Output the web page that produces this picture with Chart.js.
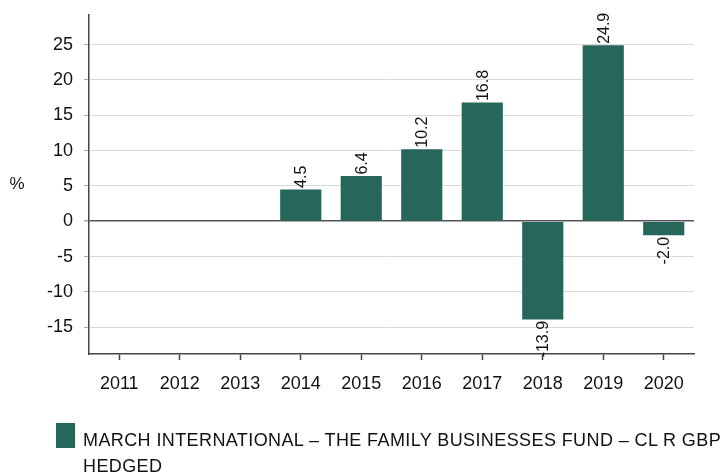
<!DOCTYPE html>
<html>
<head>
<meta charset="utf-8">
<script src="https://cdn.jsdelivr.net/npm/chart.js@4.4.1/dist/chart.umd.min.js"></script>
<style>
  html, body { margin: 0; padding: 0; background: #fff; }
  #wrap { position: relative; width: 722px; height: 473px; overflow: hidden; }
  canvas { position: absolute; left: 0; top: 0; }
  #legend { position: absolute; left: 56px; top: 422px; font-family: "Liberation Sans", Arial, sans-serif; font-size: 18px; letter-spacing: 0.4px; color: #111; }
  #legend .box { position: absolute; left: 0; top: 1px; width: 19px; height: 25px; }
  #legend .txt { position: absolute; left: 27px; top: 5px; width: 680px; line-height: 26px; white-space: nowrap; }
</style>
</head>
<body>
<div id="wrap">
  <canvas id="c" width="722" height="473"></canvas>
  <div id="legend"><div class="box" id="lbox"></div><div class="txt" id="ltxt"></div></div>
</div>
<script>
const categories = ["2011", "2012", "2013", "2014", "2015", "2016", "2017", "2018", "2019", "2020"];
const fundReturns = [null, null, null, 4.5, 6.4, 10.2, 16.8, -13.9, 24.9, -2.0];
const seriesName = "MARCH INTERNATIONAL \u2013 THE FAMILY BUSINESSES FUND \u2013 CL R GBP HEDGED";
const legendLines = ["MARCH INTERNATIONAL \u2013 THE FAMILY BUSINESSES FUND \u2013 CL R GBP", "HEDGED"];
const yAxisTitle = "%";

const barColor = "#27665a";
const textColor = "#111";
const fontFamily = '"Liberation Sans", Arial, sans-serif';

document.getElementById('lbox').style.background = barColor;
document.getElementById('ltxt').innerHTML = legendLines.join('<br>');

const valueLabels = {
  id: 'valueLabels',
  afterDatasetsDraw(chart) {
    const ctx = chart.ctx;
    const meta = chart.getDatasetMeta(0);
    const data = chart.data.datasets[0].data;
    ctx.save();
    ctx.font = '16px ' + fontFamily;
    ctx.fillStyle = textColor;
    ctx.textBaseline = 'middle';
    meta.data.forEach((bar, i) => {
      const v = data[i];
      if (v === null || v === undefined) return;
      ctx.save();
      ctx.translate(bar.x, bar.y + (v >= 0 ? -1.5 : 1.5));
      ctx.rotate(-Math.PI / 2);
      ctx.textAlign = v >= 0 ? 'left' : 'right';
      ctx.fillText(v.toFixed(1), 0, 1);
      ctx.restore();
    });
    ctx.restore();
  }
};

const axisTitle = {
  id: 'axisTitle',
  afterDraw(chart) {
    const ctx = chart.ctx;
    const a = chart.chartArea;
    ctx.save();
    ctx.font = '17px ' + fontFamily;
    ctx.fillStyle = textColor;
    ctx.textAlign = 'center';
    ctx.textBaseline = 'middle';
    ctx.fillText(yAxisTitle, 17, (a.top + a.bottom) / 2);
    ctx.restore();
  }
};

new Chart(document.getElementById('c'), {
  type: 'bar',
  data: {
    labels: categories,
    datasets: [{
      label: seriesName,
      data: fundReturns,
      backgroundColor: barColor,
      borderWidth: 0,
      barPercentage: 0.68,
      categoryPercentage: 1.0
    }]
  },
  options: {
    responsive: false,
    animation: false,
    devicePixelRatio: 1,
    layout: { padding: { left: 0, right: 28, top: 15, bottom: 59 } },
    plugins: {
      legend: { display: false },
      tooltip: { enabled: false },
      title: { display: false }
    },
    scales: {
      x: {
        grid: {
          display: true,
          drawOnChartArea: false,
          offset: false,
          tickLength: 6,
          tickColor: '#444',
          tickWidth: 1.5
        },
        border: { display: true, color: '#444', width: 1.5 },
        ticks: {
          color: textColor,
          font: { family: fontFamily, size: 18 },
          padding: 13,
          maxRotation: 0,
          autoSkip: false
        },
        afterFit(scale) { scale.height = 60; scale.paddingLeft = 0; scale.paddingRight = 0; }
      },
      y: {
        min: -18.8,
        max: 29.2,
        grid: {
          color: (c) => (c.tick && c.tick.value === 0) ? '#555' : '#d9d9d9',
          lineWidth: (c) => (c.tick && c.tick.value === 0) ? 1.5 : 1,
          tickLength: 5,
          tickColor: '#aaa'
        },
        border: { display: true, color: '#444', width: 1.5 },
        ticks: {
          stepSize: 5,
          includeBounds: false,
          color: textColor,
          font: { family: fontFamily, size: 18 },
          padding: 11
        },
        afterFit(scale) { scale.width = 89; scale.paddingTop = 0; scale.paddingBottom = 0; }
      }
    }
  },
  plugins: [valueLabels, axisTitle]
});
</script>
</body>
</html>
